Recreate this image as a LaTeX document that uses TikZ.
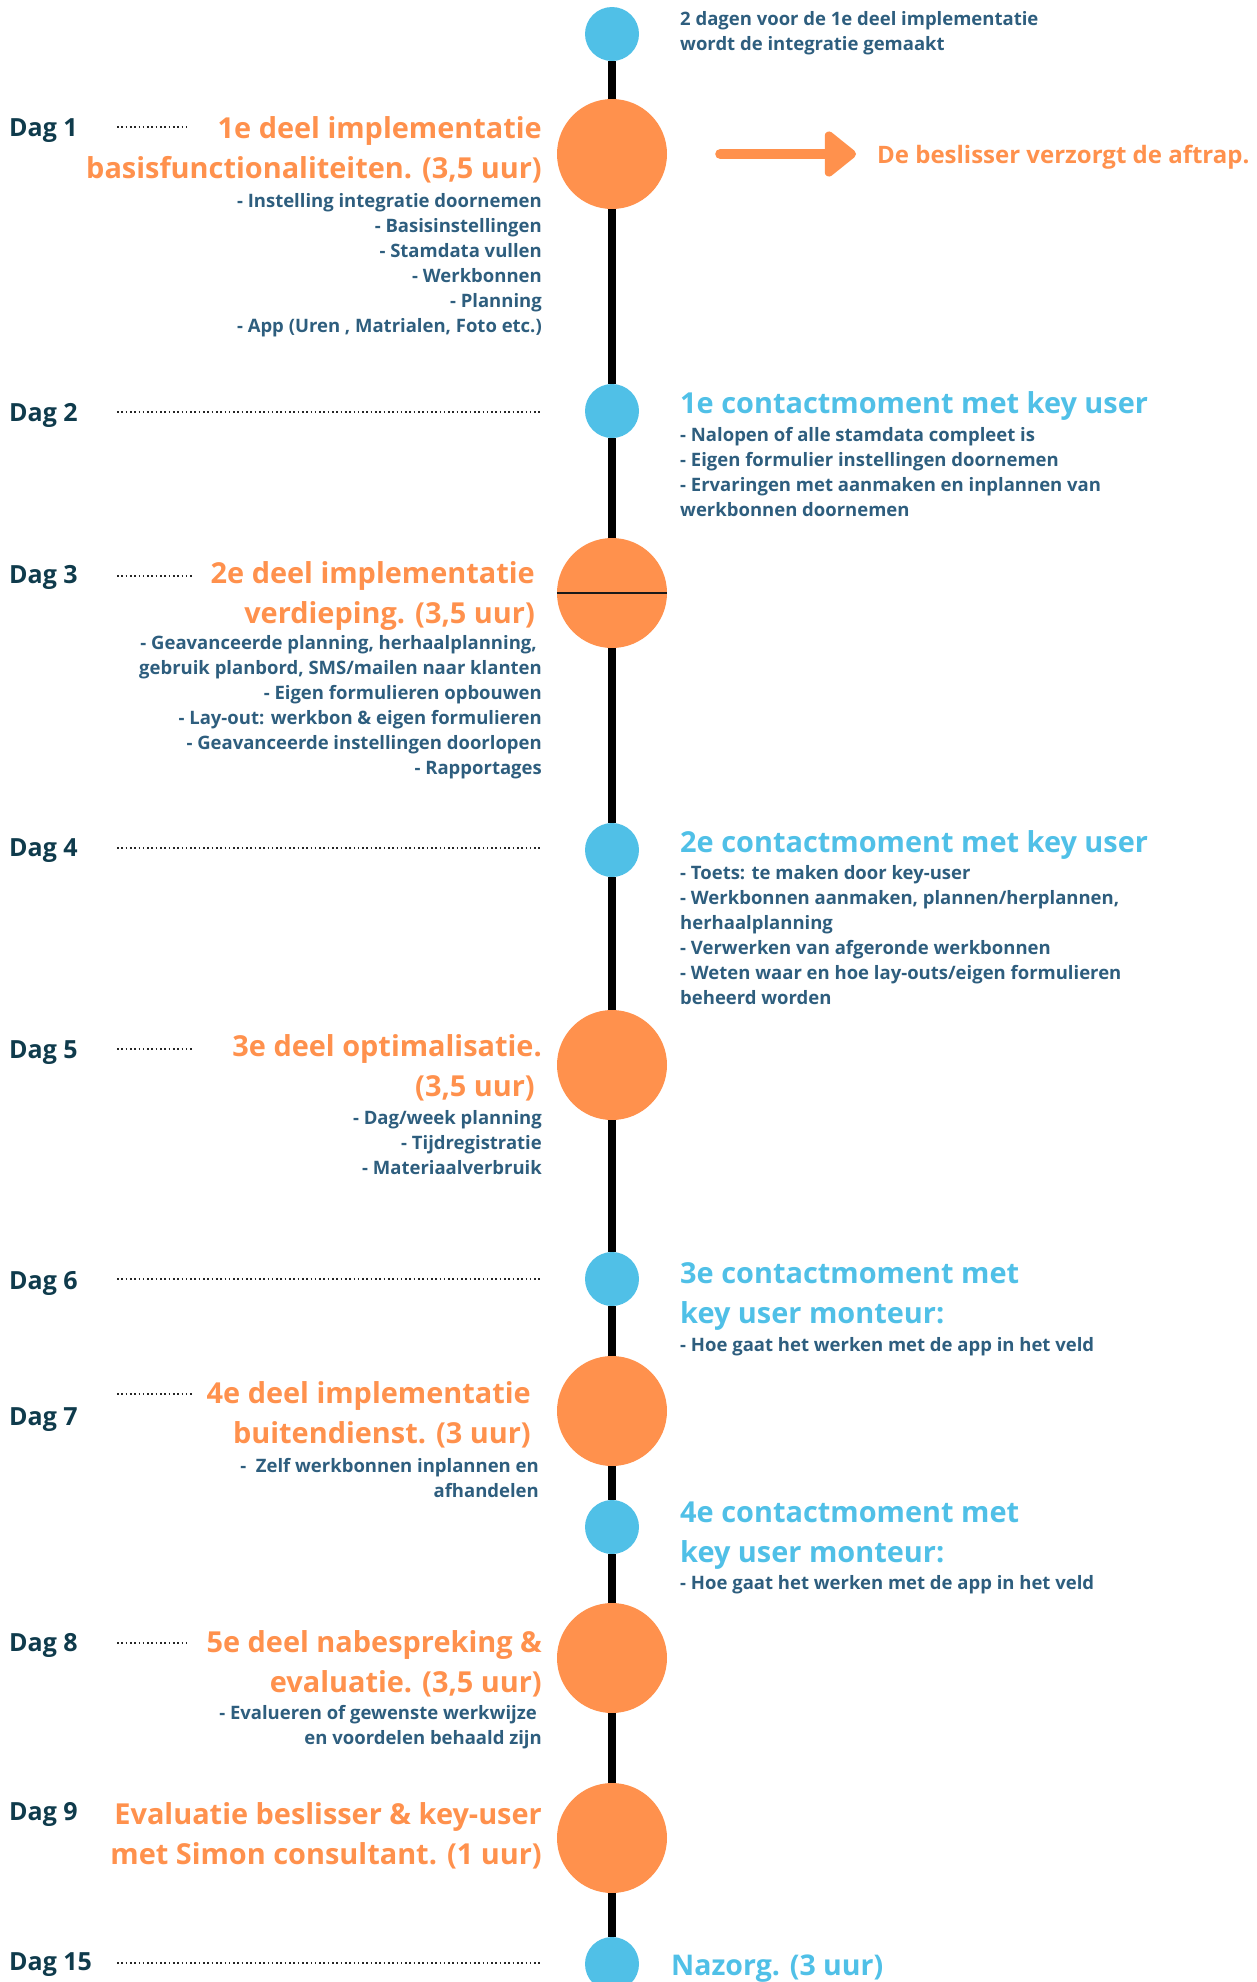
\documentclass[tikz,border=0pt]{standalone}
\usepackage{fontspec}
\setmainfont{Open Sans}
\usetikzlibrary{arrows.meta}

\definecolor{planorange}{HTML}{FF914D}
\definecolor{planblue}{HTML}{50C0E7}
\definecolor{daytext}{HTML}{0F3B4C}
\definecolor{notetext}{HTML}{2E5E7E}

\begin{document}
\begin{tikzpicture}[x=1pt,y=-1pt,
		every node/.style={inner sep=0pt},
		daylabel/.style={anchor=base west, text=daytext,
			font=\bfseries\fontsize{25}{30}\selectfont},
		sessiontext/.style={anchor=base east, align=right, text=planorange,
			font=\bfseries\fontsize{28.9}{40}\selectfont},
		contacttext/.style={anchor=base west, align=left, text=planblue,
			font=\bfseries\fontsize{28.9}{40}\selectfont},
		notesleft/.style={anchor=base east, align=right, text=notetext,
			font=\bfseries\fontsize{18.5}{25}\selectfont},
		notesright/.style={anchor=base west, align=left, text=notetext,
			font=\bfseries\fontsize{18.5}{25}\selectfont},
		session/.style={circle, fill=planorange, minimum size=110pt},
		contact/.style={circle, fill=planblue, minimum size=54pt},
		spine/.style={line width=8pt, black},
		leader/.style={line width=1.6pt, dash pattern=on 1.6pt off 2.7pt, black!85}]

		\useasboundingbox (0,0) rectangle (1257,1982);
		\clip (0,0) rectangle (1257,1982);

		% bolletjes op de tijdlijn
		\node[contact] (c0) at (612,34) {};
		\node[session] (c1) at (612,154) {};
		\node[contact] (c2) at (612,411) {};
		\node[session] (c3) at (612,593) {};
		\node[contact] (c4) at (612,850) {};
		\node[session] (c5) at (612,1065) {};
		\node[contact] (c6) at (612,1279) {};
		\node[session] (c7) at (612,1411) {};
		\node[contact] (c7b) at (612,1527) {};
		\node[session] (c8) at (612,1658) {};
		\node[session] (c9) at (612,1838) {};
		\node[contact] (c15) at (612,1964) {};

		\draw[spine] (c0) -- (c1);
		\draw[spine] (c1) -- (c2);
		\draw[spine] (c2) -- (c3);
		\draw[spine] (c3) -- (c4);
		\draw[spine] (c4) -- (c5);
		\draw[spine] (c5) -- (c6);
		\draw[spine] (c6) -- (c7);
		\draw[spine] (c7) -- (c7b);
		\draw[spine] (c7b) -- (c8);
		\draw[spine] (c8) -- (c9);
		\draw[spine] (c9) -- (c15);
		\draw[line width=2.5pt, black!90] (c3.west) -- (c3.east);

		% dagen
		\node[daylabel] (d1) at (9,136) {Dag 1};
		\node[daylabel] (d2) at (9,421) {Dag 2};
		\node[daylabel] (d3) at (9,583) {Dag 3};
		\node[daylabel] (d4) at (9,856) {Dag 4};
		\node[daylabel] (d5) at (9,1058) {Dag 5};
		\node[daylabel] (d6) at (9,1289) {Dag 6};
		\node[daylabel] (d7) at (9,1425) {Dag 7};
		\node[daylabel] (d8) at (9,1651) {Dag 8};
		\node[daylabel] (d9) at (9,1820) {Dag 9};
		\node[daylabel] (d15) at (9,1970) {Dag 15};

		\coordinate (t1) at (117,127);
		\coordinate (t2) at (117,412);
		\coordinate (t3) at (117,576);
		\coordinate (t4) at (117,848);
		\coordinate (t5) at (117,1049);
		\coordinate (t6) at (117,1279);
		\coordinate (t7) at (117,1394);
		\coordinate (t8) at (117,1643);
		\coordinate (t15) at (117,1963);

		\draw[leader] (t1) -- ++(71,0);
		\draw[leader] (t2) -- ++(424,0);
		\draw[leader] (t3) -- ++(75,0);
		\draw[leader] (t4) -- ++(424,0);
		\draw[leader] (t5) -- ++(76,0);
		\draw[leader] (t6) -- ++(424,0);
		\draw[leader] (t7) -- ++(75,0);
		\draw[leader] (t8) -- ++(73,0);
		\draw[leader] (t15) -- ++(424,0);

		% sessies links (anker = basislijn van de laatste regel)
		\node[sessiontext] (s1) at (542,178) {1e deel implementatie\\basisfunctionaliteiten. (3,5 uur)};
		\node[sessiontext] (s3) at (535,623) {2e deel implementatie\\verdieping. (3,5 uur)};
		\node[sessiontext] (s5) at (542,1096) {3e deel optimalisatie.\\(3,5 uur)\hspace*{7pt}};
		\node[sessiontext] (s7) at (531,1443) {4e deel implementatie\\buitendienst. (3 uur)};
		\node[sessiontext] (s8) at (542,1692) {5e deel nabespreking \&\\evaluatie. (3,5 uur)};
		\node[sessiontext] (s9) at (542,1864) {Evaluatie beslisser \& key-user\\met Simon consultant. (1 uur)};

		\node[notesleft] (n1) at (542,332) {- Instelling integratie doornemen\\- Basisinstellingen\\- Stamdata vullen\\- Werkbonnen\\- Planning\\- App (Uren , Matrialen, Foto etc.)};
		\node[notesleft] (n3) at (542,774) {- Geavanceerde planning, herhaalplanning,\hspace*{5pt}\\gebruik planbord, SMS/mailen naar klanten\\- Eigen formulieren opbouwen\\- Lay-out: werkbon \& eigen formulieren\\- Geavanceerde instellingen doorlopen\\- Rapportages};
		\node[notesleft] (n5) at (542,1174) {- Dag/week planning\\- Tijdregistratie\\- Materiaalverbruik};
		\node[notesleft] (n7) at (539,1497) {-\ \ Zelf werkbonnen inplannen en\\afhandelen};
		\node[notesleft] (n8) at (542,1744) {- Evalueren of gewenste werkwijze\hspace*{5pt}\\en voordelen behaald zijn};

		% contactmomenten rechts
		\node[notesright] (n0) at (680,50) {2 dagen voor de 1e deel implementatie\\wordt de integratie gemaakt};
		\node[contacttext] (k2) at (680,413) {1e contactmoment met key user};
		\node[notesright] (n2) at (680,516) {- Nalopen of alle stamdata compleet is\\- Eigen formulier instellingen doornemen\\- Ervaringen met aanmaken en inplannen van\\werkbonnen doornemen};
		\node[contacttext] (k4) at (680,852) {2e contactmoment met key user};
		\node[notesright] (n4) at (680,1004) {- Toets: te maken door key-user\\- Werkbonnen aanmaken, plannen/herplannen,\\herhaalplanning\\- Verwerken van afgeronde werkbonnen\\- Weten waar en hoe lay-outs/eigen formulieren\\beheerd worden};
		\node[contacttext] (k6) at (680,1323) {3e contactmoment met\\key user monteur:};
		\node[notesright] (n6) at (680,1351) {- Hoe gaat het werken met de app in het veld};
		\node[contacttext] (k7) at (680,1562) {4e contactmoment met\\key user monteur:};
		\node[notesright] (n7b) at (680,1589) {- Hoe gaat het werken met de app in het veld};
		\node[contacttext, font=\bfseries\fontsize{28.5}{40}\selectfont] (k15) at (671,1975) {Nazorg. (3 uur)};

		% aftrap
		\node[anchor=base west, text=planorange, font=\bfseries\fontsize{24}{30}\selectfont] (aftrap) at (877,163) {De beslisser verzorgt de aftrap.};
		\draw[line width=10pt, line cap=round, planorange, -{Triangle[length=34pt,width=52pt,round]},
			shorten <=53pt, shorten >=21pt] (c1.east) -- (c1.east -| aftrap.west);

	\end{tikzpicture}
\end{document}
